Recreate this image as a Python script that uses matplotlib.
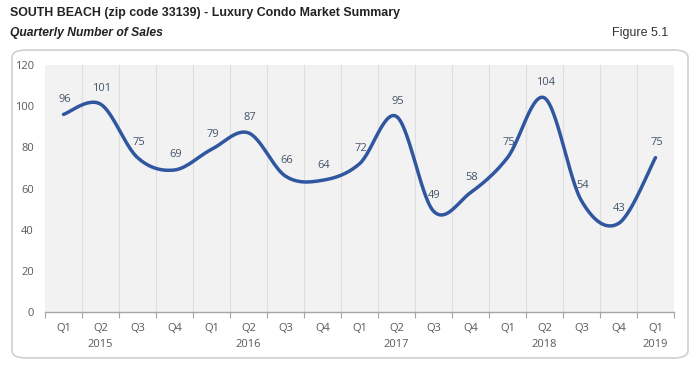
import numpy as np
import matplotlib
matplotlib.use("Agg")
import matplotlib.pyplot as plt
from matplotlib.patches import FancyBboxPatch

quarters = ["Q1", "Q2", "Q3", "Q4", "Q1", "Q2", "Q3", "Q4", "Q1", "Q2", "Q3", "Q4",
            "Q1", "Q2", "Q3", "Q4", "Q1"]
years = ["2015", "2016", "2017", "2018", "2019"]
year_pos = [1, 5, 9, 13, 16]
sales = [96, 101, 75, 69, 79, 87, 66, 64, 72, 95, 49, 58, 75, 104, 54, 43, 75]
yticks = [0, 20, 40, 60, 80, 100, 120]

W, H = 699, 369
fig = plt.figure(figsize=(W / 100, H / 100), dpi=100)
fig.patch.set_facecolor("white")

# rounded border box
box = FancyBboxPatch((12 / W, (H - 358) / H), 676 / W, 308 / H,
                     boxstyle="round,pad=0,rounding_size=0.02",
                     transform=fig.transFigure, fc="white", ec="#d0d0d0", lw=1.2,
                     zorder=-10)
fig.patches.append(box)

fig.text(10 / W, 1 - 13 / H, "SOUTH BEACH (zip code 33139) - Luxury Condo Market Summary",
         family="Liberation Sans", weight="bold", fontsize=8.9, color="#222222", va="center")
fig.text(10 / W, 1 - 33 / H, "Quarterly Number of Sales", family="Liberation Sans",
         weight="bold", style="italic", fontsize=8.75, color="#222222", va="center")
fig.text(668 / W, 1 - 33 / H, "Figure 5.1", family="Liberation Sans",
         fontsize=9, color="#333333", va="center", ha="right")

ax = fig.add_axes([45 / W, 1 - 312 / H, 629 / W, 247 / H])
ax.set_zorder(5)
ax.set_facecolor("#f2f2f2")
n = len(sales)
ax.set_xlim(0, n)
ax.set_ylim(0, 120)

# Excel-style smoothed line (Catmull-Rom via cubic Bezier)
xs = np.arange(n) + 0.5
ys = np.array(sales, dtype=float)
P = np.column_stack([xs, ys])
curve = []
t = np.linspace(0, 1, 30)
for i in range(n - 1):
    p0 = P[i - 1] if i > 0 else P[i]
    p1 = P[i]
    p2 = P[i + 1]
    p3 = P[i + 2] if i + 2 < n else P[i + 1]
    c1 = p1 + (p2 - p0) / 6
    c2 = p2 - (p3 - p1) / 6
    seg = ((1 - t) ** 3)[:, None] * p1 + (3 * (1 - t) ** 2 * t)[:, None] * c1 + \
          (3 * (1 - t) * t ** 2)[:, None] * c2 + (t ** 3)[:, None] * p2
    curve.append(seg if i == 0 else seg[1:])
curve = np.vstack(curve)
ax.plot(curve[:, 0], curve[:, 1], color="#3056a0", lw=2.5, solid_capstyle="round", zorder=3)

for x, v in zip(xs, sales):
    ax.annotate(str(v), (x, v), xytext=(0.8, 7), textcoords="offset points",
                ha="center", va="bottom", family="Open Sans", fontsize=8,
                color="#44546a", zorder=4)

for b in range(1, n):
    ax.axvline(b, color="#dedede", lw=0.8, zorder=1)

for s in ["top", "right", "left"]:
    ax.spines[s].set_visible(False)
ax.spines["bottom"].set_color("#a6a6a6")
ax.spines["bottom"].set_linewidth(1.0)

ax.set_yticks(yticks)
ax.set_yticklabels([str(v) for v in yticks], family="Open Sans", fontsize=8, color="#595959")
ax.tick_params(axis="y", length=0, pad=8)
ax.set_xticks(np.arange(0, n + 1))
ax.set_xticklabels([])
ax.tick_params(axis="x", length=4, color="#a6a6a6", direction="out")

for x, q in zip(xs, quarters):
    ax.text(x, -7.8, q, ha="center", va="center", family="Open Sans", fontsize=8,
            color="#595959", transform=ax.transData, clip_on=False)
for p, yv in zip(year_pos, years):
    ax.text(p + 0.5, -16, yv, ha="center", va="center", family="Open Sans", fontsize=8,
            color="#595959", transform=ax.transData, clip_on=False)

fig.savefig("out.png", dpi=100)
